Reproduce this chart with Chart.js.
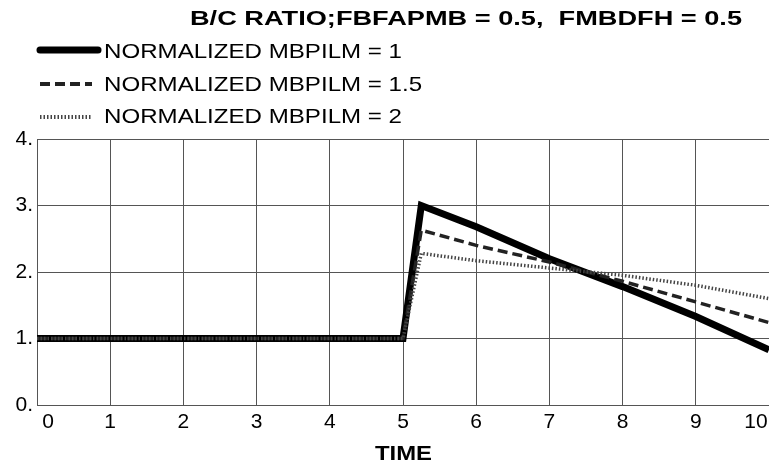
<!DOCTYPE html>
<html>
<head>
<meta charset="utf-8">
<script src="https://cdn.jsdelivr.net/npm/chart.js@4.4.0/dist/chart.umd.min.js"></script>
<style>
  html, body { margin: 0; padding: 0; background: #fff; }
  #wrap { width: 769px; height: 466px; }
</style>
</head>
<body>
<div id="wrap"><canvas id="chart" width="769" height="466"></canvas></div>
<script>
// データ
const titleText = 'B/C RATIO;FBFAPMB = 0.5,  FMBDFH = 0.5';
const xLabel = 'TIME';
const timePoints = [0, 1, 2, 3, 4, 5, 5.25, 6, 7, 8, 9, 10];
const mbpilm1 = [1, 1, 1, 1, 1, 1, 3.0, 2.68, 2.2, 1.78, 1.33, 0.83];
const mbpilm15 = [1, 1, 1, 1, 1, 1, 2.63, 2.4, 2.15, 1.86, 1.55, 1.24];
const mbpilm2 = [1, 1, 1, 1, 1, 1, 2.28, 2.17, 2.06, 1.95, 1.8, 1.6];
const xTicks = [0, 1, 2, 3, 4, 5, 6, 7, 8, 9, 10];
const yTicks = [0, 1, 2, 3, 4];

const FONT = '"Liberation Sans", Arial, sans-serif';

function toPoints(values) {
    return timePoints.map((t, i) => ({ x: t, y: values[i] }));
}

// 横方向に伸ばして文字を描く（左端 x から）
function drawStretched(ctx, text, x, y, sx) {
    ctx.save();
    ctx.translate(x, y);
    ctx.scale(sx, 1);
    ctx.textAlign = 'left';
    ctx.fillText(text, 0, 0);
    ctx.restore();
}

// タイトル・凡例・X軸ラベルの描画
const annotatePlugin = {
    id: 'annotate',
    afterDraw(chart) {
        const ctx = chart.ctx;
        const xs = chart.scales.x;
        const area = chart.chartArea;
        ctx.save();
        ctx.fillStyle = '#000';
        ctx.textBaseline = 'alphabetic';

        // タイトル
        ctx.font = 'bold 21px ' + FONT;
        const tw = ctx.measureText(titleText).width;
        drawStretched(ctx, titleText, 190, 25, 552 / tw);

        // 凡例
        const rows = [58, 91, 123];
        const lineRows = [50, 84, 117];
        ctx.font = '21px ' + FONT;
        const legendScale = 298 / ctx.measureText(chart.data.datasets[0].label).width;
        chart.data.datasets.forEach((ds, i) => {
            const y = lineRows[i];
            ctx.strokeStyle = ds.borderColor;
            ctx.lineWidth = ds.legendWidth;
            ctx.lineCap = i === 0 ? 'round' : 'butt';
            ctx.setLineDash(ds.borderDash || []);
            ctx.beginPath();
            ctx.moveTo(40, y);
            ctx.lineTo(i === 0 ? 98 : 92, y);
            ctx.stroke();
            ctx.setLineDash([]);
            drawStretched(ctx, ds.label, 104, rows[i], legendScale);
        });

        // X軸の目盛ラベル
        ctx.font = '21px ' + FONT;
        ctx.textAlign = 'center';
        xTicks.forEach(v => {
            let px = xs.getPixelForValue(v);
            if (v === 0) px += 11;
            if (v === 10) px -= 13;
            ctx.fillText(String(v), px, area.bottom + 23);
        });

        // X軸タイトル
        ctx.font = 'bold 21px ' + FONT;
        const xw = ctx.measureText(xLabel).width;
        drawStretched(ctx, xLabel, 375, 460, 57 / xw);
        ctx.restore();
    }
};

const ctx = document.getElementById('chart').getContext('2d');
const chart = new Chart(ctx, {
    type: 'line',
    data: {
        datasets: [{
            label: 'NORMALIZED MBPILM = 1',
            data: toPoints(mbpilm1),
            borderColor: '#000',
            borderWidth: 7,
            legendWidth: 7,
            pointRadius: 0,
            tension: 0,
            order: 3
        }, {
            label: 'NORMALIZED MBPILM = 1.5',
            data: toPoints(mbpilm15),
            borderColor: '#222',
            borderWidth: 3.5,
            legendWidth: 4,
            borderDash: [10, 5],
            pointRadius: 0,
            tension: 0,
            order: 2
        }, {
            label: 'NORMALIZED MBPILM = 2',
            data: toPoints(mbpilm2),
            borderColor: '#444',
            borderWidth: 3.5,
            legendWidth: 4,
            borderDash: [1.5, 2],
            pointRadius: 0,
            tension: 0,
            order: 1
        }]
    },
    options: {
        responsive: false,
        animation: false,
        layout: { padding: { top: 139, right: 0, bottom: 61, left: 0 } },
        plugins: {
            legend: { display: false },
            title: { display: false },
            tooltip: { enabled: false }
        },
        scales: {
            x: {
                type: 'linear',
                min: 0,
                max: 10,
                afterBuildTicks: scale => { scale.ticks = xTicks.map(v => ({ value: v })); },
                ticks: { display: false },
                grid: { color: '#555', lineWidth: 1, drawTicks: false },
                border: { color: '#555', width: 1 },
                afterFit: scale => { scale.height = 0; }
            },
            y: {
                min: 0,
                max: 4,
                afterBuildTicks: scale => { scale.ticks = yTicks.map(v => ({ value: v })); },
                ticks: {
                    color: '#000',
                    font: { family: FONT, size: 21 },
                    padding: 4,
                    callback: v => v + '.'
                },
                grid: { color: '#555', lineWidth: 1, drawTicks: false },
                border: { color: '#555', width: 1 },
                afterFit: scale => { scale.width = 37; }
            }
        }
    },
    plugins: [annotatePlugin]
});
</script>
</body>
</html>
